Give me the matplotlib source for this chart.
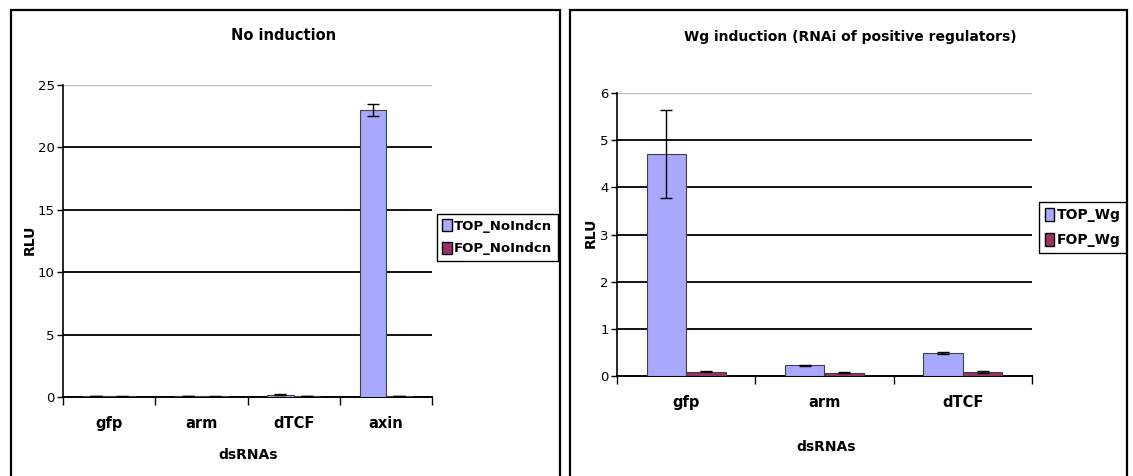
import numpy as np
import matplotlib
matplotlib.use("Agg")
import matplotlib.pyplot as plt
from matplotlib.patches import Rectangle, Patch

# data
cats_left = ["gfp", "arm", "dTCF", "axin"]
top_noind = [0.10, 0.07, 0.18, 23.0]
top_noind_err = [0.02, 0.02, 0.03, 0.45]
fop_noind = [0.05, 0.05, 0.06, 0.06]
fop_noind_err = [0.01, 0.01, 0.01, 0.01]

cats_right = ["gfp", "arm", "dTCF"]
top_wg = [4.70, 0.23, 0.48]
top_wg_err = [0.93, 0.01, 0.02]
fop_wg = [0.09, 0.07, 0.08]
fop_wg_err = [0.01, 0.01, 0.02]

TOP_COLOR = "#a8a8ff"
FOP_COLOR = "#993366"

W, H = 1133, 476
fig = plt.figure(figsize=(W / 100, H / 100), dpi=100)
plt.rcParams["font.family"] = "DejaVu Sans"


def px_axes(x0, y0, x1, y1):
    # pixel box (top-left origin) -> figure axes
    return fig.add_axes([x0 / W, 1 - y1 / H, (x1 - x0) / W, (y1 - y0) / H])


def frame(x0, y0, x1, y1):
    fig.add_artist(Rectangle((x0 / W, 1 - y1 / H), (x1 - x0) / W, (y1 - y0) / H,
                             transform=fig.transFigure, fill=False,
                             ec="black", lw=1.6))


def bar_panel(ax, cats, top, top_err, fop, fop_err, ymax, step, labels):
    n = len(cats)
    x = np.arange(n)
    w = 0.285
    ax.bar(x - w / 2, top, w, color=TOP_COLOR, edgecolor="#404040", lw=0.8, zorder=3)
    ax.bar(x + w / 2, fop, w, color=FOP_COLOR, edgecolor="#404040", lw=0.8, zorder=3)
    ax.errorbar(x - w / 2, top, yerr=top_err, fmt="none", ecolor="black",
                elinewidth=1, capsize=4, capthick=1, zorder=4)
    ax.errorbar(x + w / 2, fop, yerr=fop_err, fmt="none", ecolor="black",
                elinewidth=1, capsize=4, capthick=1, zorder=4)
    ax.set_xlim(-0.5, n - 0.5)
    ax.set_ylim(0, ymax)
    yt = np.arange(0, ymax + step / 2, step)
    ax.set_yticks(yt)
    ax.set_yticklabels([f"{v:g}" for v in yt], fontsize=9.5)
    for v in yt[1:-1]:
        ax.axhline(v, color="black", lw=1.3, zorder=1)
    ax.axhline(ymax, color="#c0c0c0", lw=1.0, zorder=1)
    ax.set_xticks(x)
    ax.set_xticklabels(cats, fontsize=10.5, fontweight="bold")
    ax.set_xticks(np.arange(-0.5, n, 1.0), minor=True)
    ax.tick_params(axis="x", which="major", length=0, pad=14)
    ax.tick_params(axis="x", which="minor", length=6, width=1, direction="out")
    ax.tick_params(axis="y", length=4, width=1, direction="out", pad=2)
    for s in ["top", "right"]:
        ax.spines[s].set_visible(False)
    ax.spines["left"].set_linewidth(1.2)
    ax.spines["bottom"].set_linewidth(1.4)
    handles = [Patch(facecolor=TOP_COLOR, edgecolor="black", label=labels[0]),
               Patch(facecolor=FOP_COLOR, edgecolor="black", label=labels[1])]
    return handles


# left panel
frame(11, 10, 560, 490)
axl = px_axes(63, 85, 432, 397)
h = bar_panel(axl, cats_left, top_noind, top_noind_err, fop_noind, fop_noind_err,
              25, 5, ["TOP_NoIndcn", "FOP_NoIndcn"])
fig.text(284 / W, 1 - 36 / H, "No induction", ha="center", va="center",
         fontsize=10.5, fontweight="bold")
fig.text(248 / W, 1 - 455 / H, "dsRNAs", ha="center", va="center",
         fontsize=10, fontweight="bold")
fig.text(30 / W, 1 - 240 / H, "RLU", ha="center", va="center", rotation=90,
         fontsize=10, fontweight="bold")
fig.legend(handles=h, loc="upper left", bbox_to_anchor=(437 / W, 1 - 214 / H),
           frameon=True, fancybox=False, edgecolor="black", handlelength=0.7,
           handleheight=1.0, handletextpad=0.2, borderpad=0.4, labelspacing=0.7,
           borderaxespad=0, framealpha=1, prop={"weight": "bold", "size": 9.5})

# right panel
frame(570, 10, 1127, 490)
axr = px_axes(617, 93, 1032, 376)
h = bar_panel(axr, cats_right, top_wg, top_wg_err, fop_wg, fop_wg_err,
              6, 1, ["TOP_Wg", "FOP_Wg"])
fig.text(850 / W, 1 - 37 / H, "Wg induction (RNAi of positive regulators)",
         ha="center", va="center", fontsize=10, fontweight="bold")
fig.text(826 / W, 1 - 447 / H, "dsRNAs", ha="center", va="center",
         fontsize=10, fontweight="bold")
fig.text(591 / W, 1 - 233 / H, "RLU", ha="center", va="center", rotation=90,
         fontsize=10, fontweight="bold")
fig.legend(handles=h, loc="upper left", bbox_to_anchor=(1039 / W, 1 - 202 / H),
           frameon=True, fancybox=False, edgecolor="black", handlelength=0.7,
           handleheight=1.1, handletextpad=0.2, borderpad=0.4, labelspacing=0.8,
           borderaxespad=0, framealpha=1, prop={"weight": "bold", "size": 10})

fig.savefig("out.png", dpi=100)
